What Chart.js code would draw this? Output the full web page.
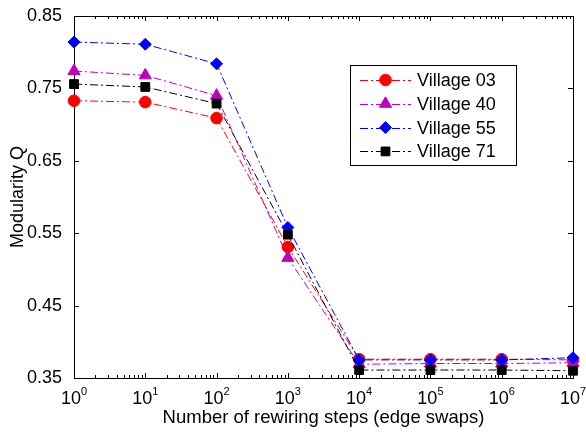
<!DOCTYPE html>
<html>
<head>
<meta charset="utf-8">
<script src="https://cdn.jsdelivr.net/npm/chart.js@4.4.1/dist/chart.umd.min.js"></script>
<style>
  html, body { margin: 0; padding: 0; background: #fff; }
  #contenedor { width: 586px; height: 433px; position: relative; }
</style>
</head>
<body>
<div id="contenedor"><canvas id="grafica"></canvas></div>
<script>
// pasos de recableado (eje x, logaritmico)
const pasos = [1, 10, 100, 1000, 10000, 100000, 1000000, 10000000];
const decadas = [0, 1, 2, 3, 4, 5, 6, 7];

// modularidad Q por aldea
const village03 = [0.733, 0.731, 0.709, 0.531, 0.376, 0.376, 0.376, 0.375];
const village40 = [0.774, 0.768, 0.740, 0.516, 0.369, 0.370, 0.370, 0.371];
const village55 = [0.814, 0.811, 0.784, 0.558, 0.375, 0.375, 0.375, 0.378];
const village71 = [0.756, 0.752, 0.729, 0.548, 0.361, 0.361, 0.361, 0.360];

const ticksY = [0.35, 0.45, 0.55, 0.65, 0.75, 0.85];

const FUENTE = "'Liberation Sans', Arial, Helvetica, sans-serif";
Chart.defaults.font.family = FUENTE;
Chart.defaults.color = "#000";

function serie(nombre, valores, color, estilo, radio, orden) {
    return {
        label: nombre,
        data: pasos.map((x, i) => ({ x: x, y: valores[i] })),
        borderColor: color,
        backgroundColor: color,
        pointBackgroundColor: color,
        pointBorderColor: color,
        borderWidth: 1,
        borderDash: [8, 3, 2, 3],
        pointStyle: estilo,
        pointRadius: radio,
        pointBorderWidth: 1,
        tension: 0,
        fill: false,
        clip: false,
        order: orden
    };
}

// marco con marcas hacia dentro, como en matlab
const marco = {
    id: "marco",
    beforeDatasetsDraw(chart) {
        const { ctx, chartArea: a, scales } = chart;
        const sx = scales.x, sy = scales.y;
        ctx.save();
        ctx.strokeStyle = "#000";
        ctx.lineWidth = 1;
        ctx.strokeRect(Math.round(a.left) + 0.5, Math.round(a.top) + 0.5,
            Math.round(a.right - a.left), Math.round(a.bottom - a.top));

        ctx.beginPath();
        decadas.forEach(d => {
            if (d === 7) return;
            for (let m = 1; m <= 9; m++) {
                const px = Math.round(sx.getPixelForValue(m * Math.pow(10, d))) + 0.5;
                const largo = m === 1 ? 5 : 3;
                ctx.moveTo(px, a.bottom);
                ctx.lineTo(px, a.bottom - largo);
                ctx.moveTo(px, a.top);
                ctx.lineTo(px, a.top + largo);
            }
        });
        ticksY.forEach(v => {
            const py = Math.round(sy.getPixelForValue(v)) + 0.5;
            ctx.moveTo(a.left, py);
            ctx.lineTo(a.left + 5, py);
            ctx.moveTo(a.right, py);
            ctx.lineTo(a.right - 5, py);
        });
        ctx.stroke();

        // etiquetas 10^n
        ctx.fillStyle = "#000";
        ctx.textBaseline = "alphabetic";
        decadas.forEach(d => {
            const px = sx.getPixelForValue(Math.pow(10, d));
            ctx.font = "18px " + FUENTE;
            const wBase = ctx.measureText("10").width;
            ctx.font = "11px " + FUENTE;
            const wExp = ctx.measureText(String(d)).width;
            const x0 = px - (wBase + wExp) / 2;
            ctx.font = "18px " + FUENTE;
            ctx.textAlign = "left";
            ctx.fillText("10", x0, a.bottom + 26);
            ctx.font = "11px " + FUENTE;
            ctx.fillText(String(d), x0 + wBase, a.bottom + 17);
        });
        ctx.restore();
    },
    afterDraw(chart) {
        const { ctx } = chart;
        const caja = { x: 350.5, y: 65.5, w: 166, h: 100 };
        ctx.save();
        ctx.fillStyle = "#fff";
        ctx.fillRect(caja.x, caja.y, caja.w, caja.h);
        ctx.strokeStyle = "#000";
        ctx.lineWidth = 1;
        ctx.setLineDash([]);
        ctx.strokeRect(caja.x, caja.y, caja.w, caja.h);

        chart.data.datasets.forEach((ds, i) => {
            const y = 80 + i * 23.8;
            ctx.strokeStyle = ds.borderColor;
            ctx.fillStyle = ds.borderColor;
            ctx.lineWidth = 1;
            ctx.setLineDash(ds.borderDash);
            ctx.beginPath();
            ctx.moveTo(360, Math.round(y) + 0.5);
            ctx.lineTo(411, Math.round(y) + 0.5);
            ctx.stroke();
            ctx.setLineDash([]);
            Chart.helpers.drawPoint(ctx, {
                pointStyle: ds.pointStyle, radius: ds.pointRadius, rotation: 0, borderWidth: 1
            }, 385.5, y);
            ctx.fillStyle = "#000";
            ctx.font = "18px " + FUENTE;
            ctx.textAlign = "left";
            ctx.textBaseline = "middle";
            ctx.fillText(ds.label, 417, y + 1);
        });
        ctx.restore();
    }
};

new Chart(document.getElementById("grafica"), {
    type: "line",
    data: {
        datasets: [
            serie("Village 03", village03, "#ff0000", "circle", 5.8, 4),
            serie("Village 40", village40, "#bf00bf", "triangle", 7, 3),
            serie("Village 55", village55, "#0000ff", "rectRot", 6, 2),
            serie("Village 71", village71, "#000000", "rect", 6.2, 1)
        ]
    },
    options: {
        responsive: true,
        maintainAspectRatio: false,
        animation: false,
        events: [],
        layout: { padding: { top: 16, right: 13, left: 0, bottom: 0 } },
        plugins: {
            legend: { display: false },
            tooltip: { enabled: false }
        },
        scales: {
            x: {
                type: "logarithmic",
                min: 1,
                max: 10000000,
                grid: { display: false },
                border: { display: false },
                ticks: { display: false },
                title: {
                    display: true,
                    text: "Number of rewiring steps (edge swaps)",
                    font: { size: 18.5 },
                    color: "#000",
                    padding: { top: 0, bottom: 4 }
                },
                afterFit: s => { s.height = 55; }
            },
            y: {
                min: 0.35,
                max: 0.85,
                afterBuildTicks: s => { s.ticks = ticksY.map(v => ({ value: v })); },
                grid: { display: false },
                border: { display: false },
                ticks: {
                    font: { size: 18 },
                    color: "#000",
                    padding: 4,
                    callback: v => v.toFixed(2)
                },
                title: {
                    display: true,
                    text: "Modularity Q",
                    font: { size: 18 },
                    color: "#000",
                    padding: { top: 7.5, bottom: 0 }
                },
                afterFit: s => { s.width = 74; }
            }
        }
    },
    plugins: [marco]
});
</script>
</body>
</html>
